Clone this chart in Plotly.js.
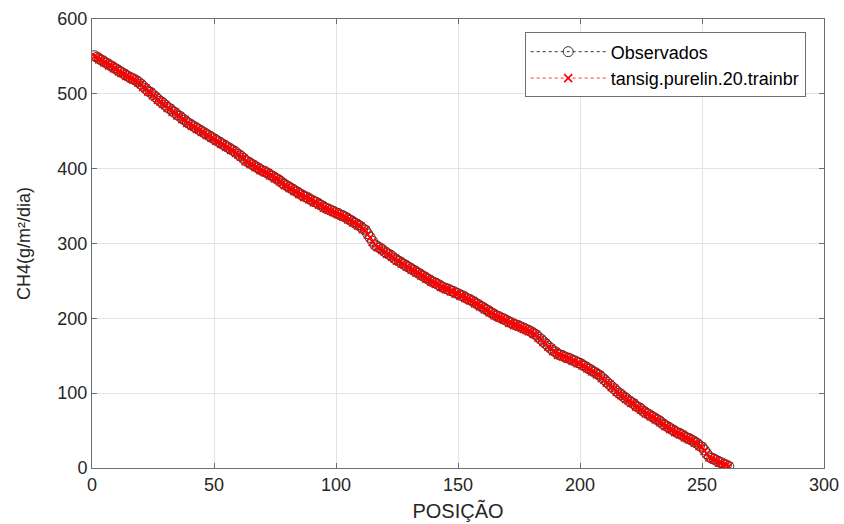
<!DOCTYPE html>
<html>
<head>
<meta charset="utf-8">
<script src="https://cdn.plot.ly/plotly-3.0.1.min.js"></script>
<style>html,body{margin:0;padding:0;background:#fff;}#chart{width:844px;height:524px;}</style>
</head>
<body>
<div id="chart"></div>
<script>
var observados = [
551,549,547,545,543,541,539,537,535,533,531,529,
527,525,523,521,520,518,516,
513,510,507,504,502,499,496,493,490,488,485,
482,480,477,475,472,470,467,465,462,
460,458,456,454,452,450,448,446,444,442,440,
438,436,434,432,430,428,426,424,422,
419,417,414,411,409,
407,405,403,401,399,397,396,394,392,390,388,
386,384,381,379,377,375,373,371,369,
367,365,363,362,360,358,356,355,353,351,349,
347,346,344,343,341,340,338,337,335,
333,331,329,327,325,323,320,318,
313,308,303,298,
296,294,292,289,287,285,283,280,278,276,
274,272,270,268,266,264,262,260,258,256,
254,252,250,248,247,245,243,
241,240,239,237,236,234,233,
231,230,228,226,225,
223,221,219,217,215,213,211,209,207,205,
203,202,200,199,197,195,194,
192,191,190,188,187,185,184,182,180,178,
175,172,169,166,163,160,157,155,152,
151,150,148,147,146,144,143,141,140,
138,136,134,132,130,128,126,124,
121,118,115,112,109,106,103,100,
98,95,93,90,88,86,83,81,79,76,74,
72,70,68,66,64,62,59,57,55,53,51,
49,47,46,44,42,40,39,37,35,
33,30,28,
24,19,15,
13,12,10,8,7,5,4,2
];
var previstos = [
550,549,546,545,542,541,538,537,534,533,530,528,
527,524,523,521,519,518,515,
513,509,507,503,502,498,496,492,490,487,485,
481,480,476,475,471,470,466,465,461,
460,457,456,453,452,449,448,445,444,441,440,
437,436,433,432,429,428,425,424,421,
419,416,414,410,409,
406,405,402,401,398,397,395,394,391,390,387,
386,383,381,378,377,374,373,370,369,
366,365,362,362,359,358,355,355,352,351,348,
347,345,344,342,341,339,338,336,335,
332,331,328,327,324,323,319,318,
312,308,302,298,
295,294,291,289,286,285,282,280,277,276,
273,272,269,268,265,264,261,260,257,256,
253,252,249,248,246,245,242,
241,239,239,236,236,233,233,
230,230,227,226,224,
223,220,219,216,215,212,211,208,207,204,
203,201,200,198,197,194,194,
191,191,189,188,186,185,183,182,179,178,
174,172,168,166,162,160,156,155,151,
151,149,148,146,146,143,143,140,140,
137,136,133,132,129,128,125,124,
120,118,114,112,108,106,102,100,
97,95,92,90,87,86,82,81,78,76,73,
72,69,68,65,64,61,59,56,55,52,51,
48,47,45,44,41,40,38,37,34,
33,29,28,
23,19,14,
13,11,10,7,7,4,4,2
];
var seriesNames = ["Observados", "tansig.purelin.20.trainbr"];
var xTicks = [0, 50, 100, 150, 200, 250, 300];
var yTicks = [0, 100, 200, 300, 400, 500, 600];

var posicao = [];
for (var i = 0; i < observados.length; i++) posicao.push(i + 1);

var traces = [
  {
    x: posicao, y: observados, name: seriesNames[0], type: 'scatter', mode: 'lines+markers',
    line: {color: '#000000', width: 0.8, dash: 'dot'},
    marker: {symbol: 'circle-open', size: 10, color: '#333333', line: {width: 1, color: '#333333'}}
  },
  {
    x: posicao, y: previstos, name: seriesNames[1], type: 'scatter', mode: 'lines+markers',
    line: {color: '#ff0000', width: 0.8, dash: 'dot'},
    marker: {symbol: 'x-thin-open', size: 8, color: '#ff0000', line: {width: 1.6, color: '#ff0000'}}
  }
];

var fam = 'Liberation Sans, Arial, sans-serif';
var axisCommon = {
  showline: true, linecolor: '#6e6e6e', linewidth: 1, mirror: 'ticks',
  ticks: 'inside', ticklen: 5, tickcolor: '#6e6e6e',
  showgrid: true, gridcolor: '#e3e3e3', gridwidth: 1, zeroline: false,
  tickfont: {family: fam, size: 18, color: '#262626'}
};

var layout = {
  width: 844, height: 524,
  margin: {l: 92, r: 20, t: 19, b: 56},
  paper_bgcolor: '#ffffff', plot_bgcolor: '#ffffff',
  showlegend: true,
  xaxis: Object.assign({}, axisCommon, {
    range: [0, 300], tickvals: xTicks, ticktext: xTicks.map(String),
    title: {text: 'POSIÇÃO', standoff: 10, font: {family: fam, size: 20, color: '#262626'}}
  }),
  yaxis: Object.assign({}, axisCommon, {
    range: [0, 600], tickvals: yTicks, ticktext: yTicks.map(String),
    title: {text: 'CH4(g/m²/dia)', standoff: 22, font: {family: fam, size: 18, color: '#262626'}}
  }),
  legend: {
    x: 0.975, y: 0.97, xanchor: 'right', yanchor: 'top',
    bgcolor: '#ffffff', bordercolor: '#6e6e6e', borderwidth: 1,
    font: {family: fam, size: 18, color: '#000000'},
    tracegroupgap: 0, itemwidth: 75
  }
};

Plotly.newPlot('chart', traces, layout, {displayModeBar: false, staticPlot: true});
</script>
</body>
</html>
